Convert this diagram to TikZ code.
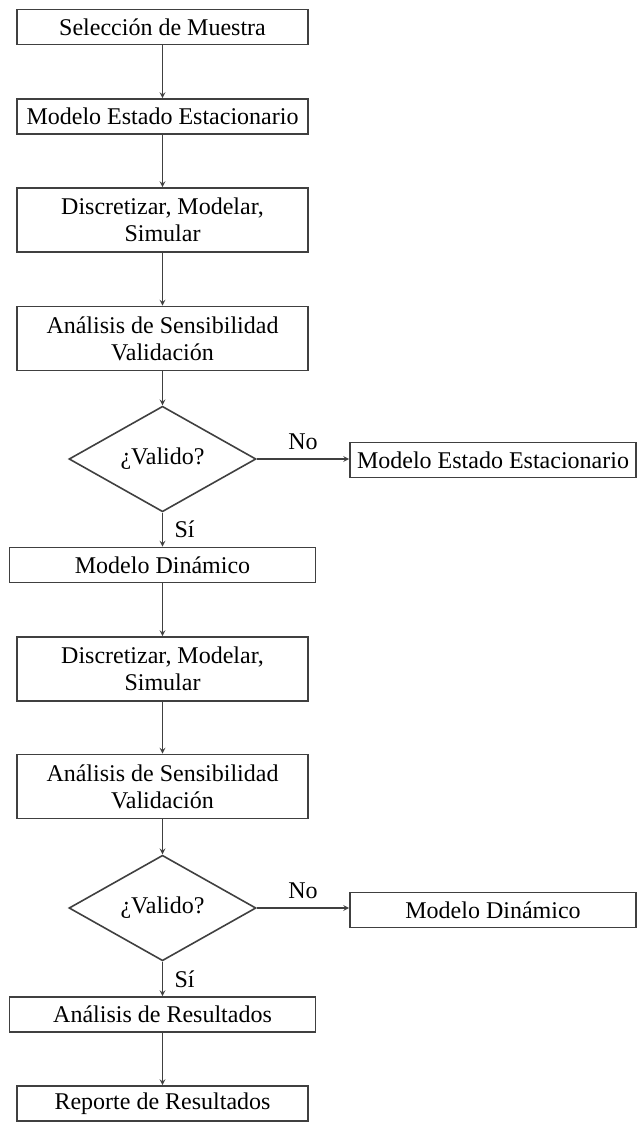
\documentclass[tikz,border=0pt]{standalone}
\usepackage{fontspec}
\setmainfont{Liberation Serif}
\usepackage{tikz}
\usetikzlibrary{shapes.geometric, arrows, positioning}

\begin{document}
\begin{tikzpicture}[x=1pt, y=-1pt, line width=1.6pt, >=stealth,
    caja/.style={draw=black!75, rectangle, minimum width=291pt, minimum height=35pt, inner sep=2pt, align=center, font=\fontsize{24}{27}\selectfont},
    cajaalta/.style={caja, minimum height=64pt},
    cajaancha/.style={caja, minimum width=306pt},
    decision/.style={draw=black!75, diamond, minimum width=187pt, minimum height=68pt, inner sep=0pt, font=\fontsize{24}{27}\selectfont},
    flecha/.style={->, draw=black!75},
    etiqueta/.style={font=\fontsize{24}{27}\selectfont}]
    \useasboundingbox (0,0) rectangle (637,1122);

    % Estado estacionario
    \node[caja] (muestra) at (162.5,27) {Selección de Muestra};
    \node[caja] (estacionario) at (162.5,116.5) {Modelo Estado Estacionario};
    \node[cajaalta] (simular1) at (162.5,220) {Discretizar, Modelar,\\Simular};
    \node[cajaalta] (sensib1) at (162.5,338.5) {Análisis de Sensibilidad\\Validación};
    \node[decision] (valido1) at (162.5,459) {¿Valido?};
    \node[caja, minimum width=286pt] (repite1) at (493,460) {Modelo Estado Estacionario};

    % Modelo dinamico
    \node[cajaancha] (dinamico) at (162.5,565) {Modelo Dinámico};
    \node[cajaalta] (simular2) at (162.5,669) {Discretizar, Modelar,\\Simular};
    \node[cajaalta] (sensib2) at (162.5,786.5) {Análisis de Sensibilidad\\Validación};
    \node[decision] (valido2) at (162.5,908) {¿Valido?};
    \node[caja, minimum width=286pt] (repite2) at (493,910) {Modelo Dinámico};

    % Resultados
    \node[cajaancha] (resultados) at (162.5,1014.5) {Análisis de Resultados};
    \node[caja] (reporte) at (162.5,1103.5) {Reporte de Resultados};

    % Flechas
    \draw[flecha] (muestra) -- (estacionario);
    \draw[flecha] (estacionario) -- (simular1);
    \draw[flecha] (simular1) -- (sensib1);
    \draw[flecha] (sensib1) -- (valido1);
    \draw[flecha] (valido1.east) -- node[etiqueta, above=5pt] {No} (valido1.east -| repite1.west);
    \draw[flecha] (valido1) -- node[etiqueta, right=8pt] {Sí} (dinamico);
    \draw[flecha] (dinamico) -- (simular2);
    \draw[flecha] (simular2) -- (sensib2);
    \draw[flecha] (sensib2) -- (valido2);
    \draw[flecha] (valido2.east) -- node[etiqueta, above=5pt] {No} (valido2.east -| repite2.west);
    \draw[flecha] (valido2) -- node[etiqueta, right=8pt] {Sí} (resultados);
    \draw[flecha] (resultados) -- (reporte);
\end{tikzpicture}
\end{document}
